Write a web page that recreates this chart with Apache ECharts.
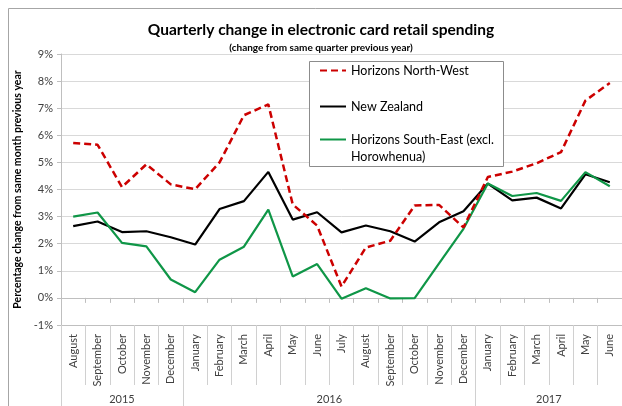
<!DOCTYPE html>
<html>
<head>
<meta charset="utf-8">
<script src="https://cdn.jsdelivr.net/npm/echarts@6/dist/echarts.min.js"></script>
<style>
html,body{margin:0;padding:0;background:#fff;}
#chart{width:622px;height:406px;}
</style>
</head>
<body>
<div id="chart"></div>
<script>
var months = ['August','September','October','November','December','January','February','March','April','May','June','July','August','September','October','November','December','January','February','March','April','May','June'];
var years = ['2015','2016','2017'];
var yearSpans = [5, 12, 6];
var yTicks = [-1, 0, 1, 2, 3, 4, 5, 6, 7, 8, 9];

var northWest = [5.72, 5.65, 4.09, 4.93, 4.19, 4.01, 5.0, 6.74, 7.14, 3.45, 2.67, 0.42, 1.86, 2.11, 3.41, 3.43, 2.6, 4.46, 4.66, 4.97, 5.38, 7.28, 7.93];
var newZealand = [2.65, 2.82, 2.43, 2.46, 2.24, 1.97, 3.28, 3.57, 4.65, 2.89, 3.16, 2.42, 2.67, 2.46, 2.08, 2.79, 3.2, 4.22, 3.6, 3.7, 3.3, 4.56, 4.27];
var southEast = [3.0, 3.15, 2.03, 1.9, 0.68, 0.21, 1.41, 1.89, 3.26, 0.79, 1.25, -0.03, 0.36, -0.02, -0.01, 1.27, 2.55, 4.22, 3.76, 3.87, 3.58, 4.64, 4.12];

var seriesNames = ['Horizons North-West', 'New Zealand', 'Horizons South-East (excl.\nHorowhenua)'];

var FONT = 'Lato';
var boundaries = [0];
var centers = [];
(function(){ var s = 0; for (var i = 0; i < yearSpans.length; i++) { centers.push(s + yearSpans[i] / 2); s += yearSpans[i]; boundaries.push(s); } })();

var chart = echarts.init(document.getElementById('chart'), null, {renderer: 'canvas'});
var gridRect = {left: 61, right: 0, top: 54, bottom: 81};

var legendBase = {
  left: 319, z: 60, itemWidth: 26, itemHeight: 14, itemGap: 2, padding: 0,
  itemStyle: {color: 'rgba(0,0,0,0)', borderColor: 'rgba(0,0,0,0)', borderWidth: 0, opacity: 0},
  textStyle: {fontFamily: FONT, fontSize: 12.5, color: '#000', lineHeight: 17}
};

var option = {
  animation: false,
  backgroundColor: '#fff',
  title: [
    {text: 'Quarterly change in electronic card retail spending', left: 316, top: 17, textAlign: 'center',
     textStyle: {fontFamily: FONT, fontSize: 15.5, fontWeight: 'bold', color: '#000'}},
    {text: '(change from same quarter previous year)', left: 316, top: 38, textAlign: 'center',
     textStyle: {fontFamily: FONT, fontSize: 10, fontWeight: 'bold', color: '#000'}}
  ],
  graphic: [
    {type: 'rect', z: 0, silent: true, shape: {x: 8.5, y: 8.5, width: 630, height: 420},
     style: {fill: 'none', stroke: '#a6a6a6', lineWidth: 1}},
    {type: 'rect', z: 50, silent: true, shape: {x: 309.5, y: 61.5, width: 194, height: 105},
     style: {fill: '#fff', stroke: '#8c8c8c', lineWidth: 1}}
  ],
  legend: [
    Object.assign({}, legendBase, {data: [seriesNames[0]], top: 62}),
    Object.assign({}, legendBase, {data: [seriesNames[1]], top: 98}),
    Object.assign({}, legendBase, {data: [seriesNames[2]], top: 114,
      formatter: function (name) { return ' \n' + name; }})
  ],
  grid: [
    Object.assign({}, gridRect),
    Object.assign({}, gridRect)
  ],
  xAxis: [
    {type: 'category', gridIndex: 0, data: months, boundaryGap: true, position: 'bottom',
     axisLine: {onZero: false, lineStyle: {color: '#bfbfbf', width: 1}},
     axisTick: {show: true, interval: 0, length: 60, lineStyle: {color: '#d0d0d0'}},
     axisLabel: {interval: 0, rotate: 90, margin: 9, fontFamily: FONT, fontSize: 11, color: '#404040'},
     splitLine: {show: false}},
    {type: 'category', gridIndex: 0, data: months, boundaryGap: true, position: 'top',
     axisLine: {onZero: true, lineStyle: {color: '#bfbfbf', width: 1}},
     axisTick: {show: true, interval: 0, inside: true, length: 5, lineStyle: {color: '#bfbfbf'}},
     axisLabel: {show: false}, splitLine: {show: false}},
    {type: 'value', gridIndex: 1, min: 0, max: months.length, position: 'bottom',
     axisLine: {show: false},
     axisTick: {show: true, customValues: boundaries, length: 81, lineStyle: {color: '#d0d0d0'}},
     axisLabel: {show: true, customValues: centers, margin: 69, fontFamily: FONT, fontSize: 11, color: '#404040',
       formatter: function (v) { for (var i = 0; i < centers.length; i++) { if (Math.abs(centers[i] - v) < 1e-6) return years[i]; } return ''; }},
     splitLine: {show: false}}
  ],
  yAxis: [
    {type: 'value', gridIndex: 0, min: yTicks[0], max: yTicks[yTicks.length - 1], interval: 1,
     name: 'Percentage change from same month previous year', nameLocation: 'middle', nameRotate: 90, nameGap: 38,
     nameTextStyle: {fontFamily: FONT, fontSize: 10.5, fontWeight: 'bold', color: '#000'},
     axisLine: {show: true, lineStyle: {color: '#bfbfbf'}},
     axisTick: {show: true, length: 4, lineStyle: {color: '#bfbfbf'}},
     axisLabel: {margin: 8, fontFamily: FONT, fontSize: 11, color: '#404040', formatter: function (v) { return v + '%'; }},
     splitLine: {show: true, lineStyle: {color: '#d9d9d9', width: 1}}},
    {type: 'value', gridIndex: 1, min: 0, max: 1, show: false}
  ],
  series: [
    {name: seriesNames[0], type: 'line', xAxisIndex: 0, yAxisIndex: 0, data: northWest, symbol: 'none', z: 3,
     itemStyle: {color: '#cc0000'}, lineStyle: {color: '#cc0000', width: 2.5, type: [7, 4]}},
    {name: seriesNames[1], type: 'line', xAxisIndex: 0, yAxisIndex: 0, data: newZealand, symbol: 'none', z: 2,
     itemStyle: {color: '#000'}, lineStyle: {color: '#000', width: 2.2}},
    {name: seriesNames[2], type: 'line', xAxisIndex: 0, yAxisIndex: 0, data: southEast, symbol: 'none', z: 2,
     itemStyle: {color: '#0f9647'}, lineStyle: {color: '#0f9647', width: 2.2}}
  ]
};
chart.setOption(option);
</script>
</body>
</html>
